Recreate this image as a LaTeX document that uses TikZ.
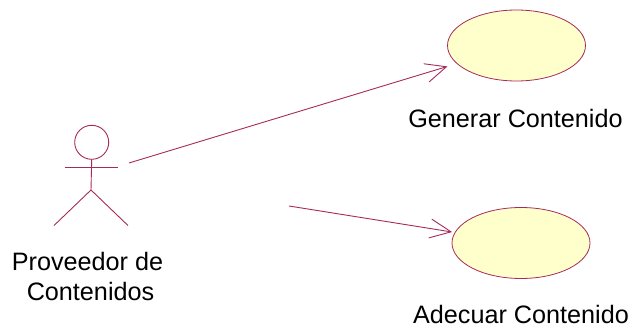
\documentclass[tikz,border=0pt]{standalone}
\usepackage{fontspec}
\setmainfont{Liberation Sans}
\usetikzlibrary{arrows.meta,shapes.geometric}
\definecolor{umlline}{HTML}{A62A5A}
\definecolor{umlfill}{HTML}{FFFFCB}
\tikzset{
  px/.style={x=1pt,y=-1pt},
  usecase/.style={ellipse,draw=umlline,fill=umlfill,line width=0.8pt,inner sep=0pt,outer sep=0pt,minimum width=138pt,minimum height=71pt},
  actorline/.style={draw=umlline,line width=0.9pt},
  assoc/.style={draw=umlline,line width=0.9pt,-{Straight Barb[length=21pt,width=19pt,line width=0.9pt]}},
  lbl/.style={font=\fontsize{25.2}{30}\selectfont,text=black,inner sep=0pt,align=center}
}
\begin{document}
\begin{tikzpicture}[px]
\useasboundingbox (0,0) rectangle (632,331);
\node[usecase] (uc1) at (516.5,45.5) {};
\node[usecase] (uc2) at (521,243) {};
\node[circle,actorline,inner sep=0pt,minimum size=34pt,outer sep=0pt] (head) at (91.7,142.3) {};
\coordinate (hip) at (91,190);
\coordinate (armL) at (64.5,167);
\coordinate (armR) at (118,167);
\coordinate (footL) at (54,225.5);
\coordinate (footR) at (128,225.5);
\draw[actorline] (head.south) -- (hip);
\draw[actorline] (armL) -- (armR);
\draw[actorline] (footL) -- (hip) -- (footR);
\coordinate (s1) at (129,163);
\coordinate (s2) at (289,206);
\draw[assoc,shorten >=10pt] (s1) -- (uc1);
\draw[assoc,shorten >=3pt] (s2) -- (uc2);
\node[lbl] (t1) at (515.5,118) {Generar Contenido};
\node[lbl] (t2) at (521,314.5) {Adecuar Contenido};
\node[lbl] (t3) at (87.5,276) {Proveedor de\\\hspace*{6pt}Contenidos};
\end{tikzpicture}
\end{document}
